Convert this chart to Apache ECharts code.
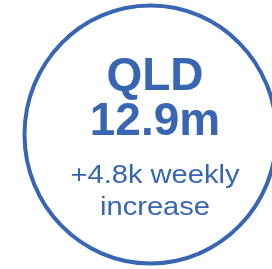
<!DOCTYPE html>
<html><head><meta charset="utf-8">
<style>html,body{margin:0;padding:0;background:#fff}#c{width:272px;height:269px}</style>
<script src="https://cdn.jsdelivr.net/npm/echarts@6/dist/echarts.min.js"></script>
</head><body><div id="c"></div>
<script>
var region = 'QLD';
var total = '12.9m';
var weekly = '+4.8k weekly';
var suffix = 'increase';
var color = '#3966b2';
var chart = echarts.init(document.getElementById('c'), null, {renderer: 'canvas'});
chart.setOption({
  animation: false,
  graphic: [
    {type: 'ellipse', shape: {cx: 150.5, cy: 134.5, rx: 126, ry: 129}, style: {fill: '#fff', stroke: color, lineWidth: 4}},
    {type: 'text', x: 155, y: 77, style: {text: region, fill: color, font: 'bold 46px "Liberation Sans", Arial, sans-serif', align: 'center', verticalAlign: 'middle'}},
    {type: 'text', x: 155, y: 122, style: {text: total, fill: color, font: 'bold 46px "Liberation Sans", Arial, sans-serif', align: 'center', verticalAlign: 'middle'}},
    {type: 'text', x: 155, y: 176, scaleX: 1.12, style: {text: weekly, fill: color, font: '26px "Liberation Sans", Arial, sans-serif', align: 'center', verticalAlign: 'middle'}},
    {type: 'text', x: 155, y: 208, scaleX: 1.12, style: {text: suffix, fill: color, font: '26px "Liberation Sans", Arial, sans-serif', align: 'center', verticalAlign: 'middle'}}
  ]
});
</script></body></html>
